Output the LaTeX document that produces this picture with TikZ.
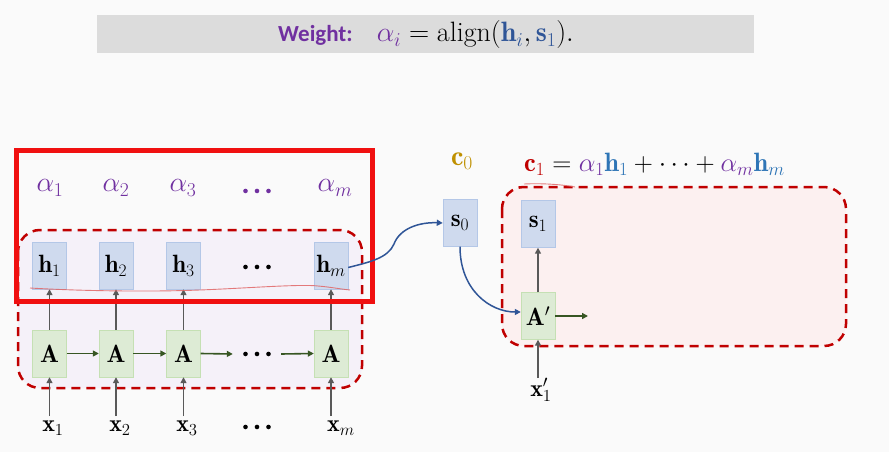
\RequirePackage{fix-cm}
\documentclass[tikz,border=0pt]{standalone}
\usepackage{fontspec}
\newfontfamily\calibri{Carlito}
\usetikzlibrary{arrows.meta}
\definecolor{bgc}{HTML}{FAFAFA}
\definecolor{banner}{HTML}{DCDCDC}
\definecolor{purp}{HTML}{7030A0}
\definecolor{dblue}{HTML}{2F5597}
\definecolor{lblue}{HTML}{2E75B6}
\definecolor{gold}{HTML}{BF9000}
\definecolor{dred}{HTML}{C00000}
\definecolor{bred}{HTML}{F01010}
\definecolor{hfill}{HTML}{CFDAEE}
\definecolor{hdraw}{HTML}{B4C7E7}
\definecolor{afill}{HTML}{DDEBD5}
\definecolor{adraw}{HTML}{C5E0B4}
\definecolor{gray5}{HTML}{595959}
\definecolor{dgreen}{HTML}{375623}
\definecolor{lav}{HTML}{F5F1F9}
\definecolor{pink}{HTML}{FCF0F0}
\definecolor{pen}{HTML}{E06565}
\newcommand{\bdots}{\tikz[baseline=-2.4pt,x=1pt,y=1pt]{\fill (0,0) circle (2.3pt) (11.5,0) circle (2.3pt) (23,0) circle (2.3pt);}}
\begin{document}
\begin{tikzpicture}[x=1pt,y=-1pt,
  boxfont/.style={font=\fontsize{25}{29}\selectfont},
  hbox/.style={boxfont,draw=hdraw,fill=hfill,minimum width=34pt,minimum height=47pt,inner sep=0pt},
  abox/.style={boxfont,draw=adraw,fill=afill,minimum width=34pt,minimum height=47pt,inner sep=0pt},
  lbl/.style={font=\fontsize{24}{28}\selectfont,inner sep=0pt},
  alab/.style={font=\fontsize{28}{32}\selectfont,inner sep=0pt,text=purp},
  grayarrow/.style={draw=gray5,line width=1.6pt,-{Triangle[length=6pt,width=6pt]}},
  greenarrow/.style={draw=dgreen,line width=1.6pt,-{Triangle[length=6pt,width=6pt]}},
  bluearrow/.style={draw=dblue,line width=1.5pt,-{Triangle[length=6pt,width=6pt]}},
  dashbox/.style={draw=dred,line width=2.5pt,dash pattern=on 9pt off 6pt,rounded corners=22pt},
  penline/.style={draw=pen,line width=0.9pt,opacity=0.85}
]
\useasboundingbox (0,0) rectangle (889,452);
\fill[bgc] (0,0) rectangle (889,452);
% banner
\fill[banner] (97,15) rectangle (754,53);
\node[inner sep=0pt] (weight) at (426,35)
  {{\fontsize{23}{27}\selectfont\calibri\bfseries\color{purp}Weight:}\hspace{24pt}{\fontsize{28}{32}\selectfont$\color{purp}\alpha_i \color{black}= \mathrm{align}(\color{dblue}\mathbf{h}_i\color{black},\color{dblue}\mathbf{s}_1\color{black}).$}};
% dashed boxes
\draw[dashbox,fill=lav] (18,230) rectangle (362,388);
\draw[dashbox,fill=pink] (502,187) rectangle (846,346);
% h nodes
\node[hbox] (h1) at (49.5,265.5) {$\mathbf{h}_1$};
\node[hbox] (h2) at (116,265.5) {$\mathbf{h}_2$};
\node[hbox] (h3) at (183.5,265.5) {$\mathbf{h}_3$};
\node[hbox] (hm) at (331,265.5) {$\mathbf{h}_m$};
\node[lbl,text=black] (hd) at (257,267) {\bdots};
% alpha labels
\node[alab] (a1) at (50,188) {$\alpha_1$};
\node[alab] (a2) at (116,188) {$\alpha_2$};
\node[alab] (a3) at (183,188) {$\alpha_3$};
\node[alab] (ad) at (257,191) {\bdots};
\node[alab] (am) at (335,188) {$\alpha_m$};
% A nodes
\node[abox] (A1) at (49.5,353.5) {$\mathbf{A}$};
\node[abox] (A2) at (116,353.5) {$\mathbf{A}$};
\node[abox] (A3) at (183.5,353.5) {$\mathbf{A}$};
\node[abox] (Am) at (331,353.5) {$\mathbf{A}$};
\node[lbl,minimum width=48pt] (Ad) at (257,354) {\bdots};
% x labels
\node[lbl] (x1) at (53,428) {$\mathbf{x}_1$};
\node[lbl] (x2) at (120,428) {$\mathbf{x}_2$};
\node[lbl] (x3) at (187,428) {$\mathbf{x}_3$};
\node[lbl] (xd) at (257,427) {\bdots};
\node[lbl] (xm) at (341,428) {$\mathbf{x}_m$};
% arrows x -> A
\foreach \a/\x in {A1/x1,A2/x2,A3/x3,Am/xm}{
  \draw[grayarrow] (\a.south |- 0,416) -- (\a.south);
}
% arrows A -> h
\draw[grayarrow] (A1.north) -- (h1.south);
\draw[grayarrow] (A2.north) -- (h2.south);
\draw[grayarrow] (A3.north) -- (h3.south);
\draw[grayarrow] (Am.north) -- (hm.south);
% horizontal chain
\draw[greenarrow] (A1.east) -- (A2.west);
\draw[greenarrow] (A2.east) -- (A3.west);
\draw[greenarrow] (A3.east) -- (Ad.west);
\draw[greenarrow] (Ad.east) -- (Am.west);
% pen underline
\draw[penline] (30,288) .. controls (80,291) and (150,292) .. (200,290)
  .. controls (250,288) and (300,284) .. (318,286) .. controls (330,287) and (340,289) .. (350,290);
% red highlight rectangle
\draw[bred,line width=5pt] (16,150) rectangle (372,301);
% decoder side
\node[hbox] (s0) at (460,223) {$\mathbf{s}_0$};
\node[hbox] (s1) at (538,224) {$\mathbf{s}_1$};
\node[abox] (Ap) at (538,316) {$\mathbf{A}'$};
\node[alab,text=gold] (c0) at (462,161) {$\mathbf{c}_0$};
\node[inner sep=0pt,anchor=west,font=\fontsize{26.5}{30}\selectfont] (c1) at (524,164)
  {$\color{dred}\mathbf{c}_1\color{black} = \color{purp}\alpha_1\color{lblue}\mathbf{h}_1\color{black} + \cdots + \color{purp}\alpha_m\color{lblue}\mathbf{h}_m$};
\node[lbl] (xp) at (541,390) {$\mathbf{x}'_1$};
\coordinate (aout) at (588,316);
\draw[bluearrow] ([yshift=-2pt]hm.east) .. controls (370,262) and (388,258) .. (394,244)
  .. controls (400,228) and (420,222) .. (s0.west);
\draw[bluearrow] (s0.south) .. controls (460,290) and (490,312) .. ([yshift=4pt]Ap.west);
\draw[grayarrow] (Ap.north) -- (s1.south);
\draw[grayarrow] (Ap.south |- 0,378) -- (Ap.south);
\draw[greenarrow] (Ap.east) -- (aout);
\draw[penline] (524,184) .. controls (545,183) and (565,185) .. (575,187);
\end{tikzpicture}
\end{document}
